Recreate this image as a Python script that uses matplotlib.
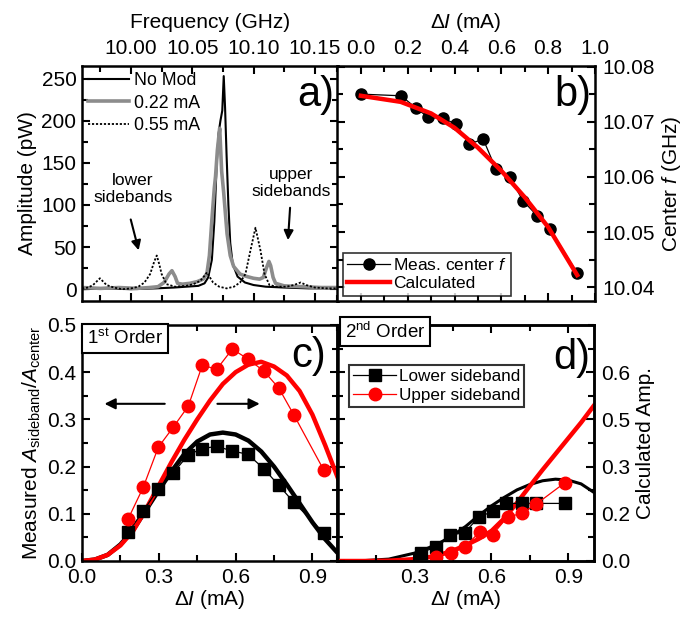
import matplotlib
matplotlib.use('Agg')
import matplotlib.pyplot as plt
from matplotlib.ticker import MultipleLocator

plt.rcParams['font.family'] = ['Liberation Sans', 'DejaVu Sans']
plt.rcParams['font.size'] = 15
plt.rcParams['mathtext.fontset'] = 'custom'
plt.rcParams['mathtext.rm'] = 'Liberation Sans'
plt.rcParams['mathtext.it'] = 'Liberation Sans:italic'
plt.rcParams['axes.linewidth'] = 1.8

# a) spectra (GHz, pW)
freq_nomod = [9.960, 9.980, 10.000, 10.020, 10.035, 10.045, 10.055, 10.060, 10.063, 10.066,
              10.068, 10.070, 10.0715, 10.073, 10.0745, 10.0757, 10.0768, 10.078, 10.0795,
              10.081, 10.083, 10.087, 10.093, 10.100, 10.110, 10.125, 10.145, 10.169]
amp_nomod = [0, 1, 0, 1, 2, 3, 4, 7, 14, 35, 80, 150, 185, 200, 212, 253, 215, 160, 100,
             55, 30, 15, 8, 5, 3, 2, 1, 1]

freq_022 = [9.960, 9.975, 9.990, 10.005, 10.015, 10.022, 10.027, 10.031, 10.0334, 10.036,
            10.038, 10.042, 10.048, 10.054, 10.059, 10.062, 10.064, 10.066, 10.068, 10.069,
            10.0705, 10.0724, 10.074, 10.0757, 10.0784, 10.081, 10.0838, 10.089, 10.0948,
            10.100, 10.105, 10.108, 10.1105, 10.1126, 10.114, 10.116, 10.118, 10.125, 10.140,
            10.155, 10.169]
amp_022 = [2, 1, 2, 1, 2, 3, 8, 18, 22, 15, 7, 6, 7, 9, 12, 19, 40, 82, 120, 134, 165, 191,
           140, 114, 66, 40, 27, 18, 15, 13, 12, 14, 25, 33, 28, 14, 7, 4, 3, 2, 2]

freq_055 = [9.960, 9.965, 9.969, 9.9746, 9.980, 9.986, 9.993, 10.000, 10.006, 10.011,
            10.0156, 10.019, 10.021, 10.023, 10.025, 10.029, 10.036, 10.045, 10.051, 10.0566,
            10.060, 10.062, 10.064, 10.067, 10.072, 10.078, 10.084, 10.089, 10.0934, 10.0975,
            10.1016, 10.1057, 10.109, 10.113, 10.119, 10.127, 10.133, 10.1385, 10.143, 10.150,
            10.160, 10.169]
amp_055 = [1, 2, 5, 13, 5, 2, 0, 1, 3, 8, 18, 33, 40, 30, 18, 6, 3, 4, 6, 10, 16, 20, 15, 8,
           3, 1, 3, 8, 18, 46, 73, 46, 18, 5, 3, 3, 5, 8, 5, 2, 1, 1]

# b) center frequency
di_meas = [0.0, 0.172, 0.235, 0.287, 0.352, 0.405, 0.463, 0.523, 0.577, 0.635, 0.692,
           0.752, 0.809, 0.924]
f_meas = [10.0750, 10.0747, 10.0725, 10.0708, 10.0706, 10.0696, 10.0660, 10.0668, 10.0614,
          10.0600, 10.0557, 10.0530, 10.0505, 10.0426]
di_calc = [0.0, 0.17, 0.3, 0.4, 0.5, 0.6, 0.7, 0.8, 0.924]
f_calc = [10.0747, 10.0736, 10.0715, 10.0689, 10.0653, 10.0611, 10.0563, 10.0509, 10.0422]

# c) 1st order sidebands
di_c = [0.180, 0.239, 0.298, 0.357, 0.415, 0.470, 0.526, 0.587, 0.648, 0.711, 0.769, 0.828, 0.945]
lower_c = [0.061, 0.106, 0.153, 0.187, 0.225, 0.238, 0.243, 0.233, 0.226, 0.195, 0.160, 0.124, 0.059]
upper_c = [0.089, 0.156, 0.241, 0.284, 0.328, 0.415, 0.406, 0.449, 0.428, 0.402, 0.366, 0.309, 0.192]
di_calc_c = [0, 0.05, 0.1, 0.15, 0.2, 0.25, 0.3, 0.35, 0.4, 0.45, 0.5, 0.55, 0.6, 0.65, 0.7,
             0.75, 0.8, 0.85, 0.9, 0.95, 1.0]
calc_lower_c = [0, 0.003, 0.013, 0.035, 0.066, 0.108, 0.150, 0.19, 0.227, 0.253, 0.268, 0.272,
                0.268, 0.255, 0.232, 0.200, 0.162, 0.122, 0.082, 0.046, 0.016]
calc_upper_c = [0, 0.003, 0.013, 0.033, 0.064, 0.11, 0.16, 0.21, 0.257, 0.30, 0.34, 0.375,
                0.40, 0.416, 0.422, 0.412, 0.393, 0.36, 0.31, 0.245, 0.175]

# d) 2nd order sidebands
di_d_low = [0.327, 0.386, 0.440, 0.496, 0.551, 0.605, 0.657, 0.719, 0.774, 0.887]
lower_d = [0.018, 0.030, 0.055, 0.060, 0.093, 0.105, 0.122, 0.122, 0.122, 0.122]
di_d_up = [0.383, 0.444, 0.496, 0.554, 0.605, 0.663, 0.719, 0.776, 0.887]
upper_d = [0.009, 0.016, 0.030, 0.061, 0.056, 0.093, 0.101, 0.121, 0.166]
di_calc_d = [0, 0.1, 0.2, 0.3, 0.35, 0.4, 0.45, 0.5, 0.55, 0.6, 0.65, 0.7, 0.75, 0.8, 0.85,
             0.9, 0.95, 1.0]
calc_lower_d = [0, 0.001, 0.006, 0.025, 0.040, 0.058, 0.082, 0.110, 0.144, 0.175, 0.202, 0.226,
                0.243, 0.255, 0.260, 0.257, 0.245, 0.218]
calc_upper_d = [0, 0, 0.001, 0.006, 0.011, 0.020, 0.033, 0.050, 0.070, 0.095, 0.135, 0.185,
                0.238, 0.290, 0.340, 0.390, 0.440, 0.494]
calc_amp_ticks = [0.0, 0.15, 0.3, 0.45, 0.6]
calc_amp_labels = ['0.0', '0.2', '0.3', '0.5', '0.6']

red = '#ff0000'
fig = plt.figure(figsize=(6.83, 6.19), dpi=100)
ax_a = fig.add_axes([0.1201, 0.5137, 0.3748, 0.3797])
ax_b = fig.add_axes([0.4941, 0.5137, 0.3770, 0.3797])
ax_c = fig.add_axes([0.1201, 0.0937, 0.3748, 0.3813])
ax_d = fig.add_axes([0.4941, 0.0937, 0.3755, 0.3813])


def style(ax):
    ax.tick_params(which='both', direction='in', top=True, bottom=True, left=True, right=True,
                   width=1.5)
    ax.tick_params(which='major', length=6)
    ax.tick_params(which='minor', length=4)


# panel a
ax_a.plot(freq_nomod, amp_nomod, color='k', lw=1.5, label='No Mod')
ax_a.plot(freq_022, amp_022, color='#8c8c8c', lw=2.6, label='0.22 mA')
ax_a.plot(freq_055, amp_055, color='k', lw=1.3, ls=(0, (1.2, 1.0)), label='0.55 mA')
ax_a.set_xlim(9.960, 10.169)
ax_a.set_ylim(-14, 265)
style(ax_a)
ax_a.xaxis.set_major_locator(MultipleLocator(0.05))
ax_a.xaxis.set_minor_locator(MultipleLocator(0.025))
ax_a.yaxis.set_major_locator(MultipleLocator(50))
ax_a.yaxis.set_minor_locator(MultipleLocator(25))
ax_a.xaxis.set_major_formatter(matplotlib.ticker.FormatStrFormatter('%.2f'))
ax_a.tick_params(axis='x', labeltop=True, labelbottom=False, pad=6)
ax_a.tick_params(axis='y', pad=4)
ax_a.xaxis.set_label_position('top')
ax_a.set_xlabel('Frequency (GHz)', labelpad=8)
ax_a.set_ylabel('Amplitude (pW)', labelpad=3)
ax_a.legend(loc='upper left', frameon=False, handlelength=2.3, handletextpad=0.25,
            labelspacing=0.3, borderaxespad=0.15, borderpad=0.2, fontsize=12.8)
ax_a.text(0.985, 0.96, 'a)', transform=ax_a.transAxes, ha='right', va='top', fontsize=30)
ax_a.text(10.0016, 119, 'lower\nsidebands', ha='center', va='center', fontsize=12.5,
          linespacing=1.1)
ax_a.annotate('', xy=(10.0068, 43), xytext=(9.9992, 86),
              arrowprops=dict(arrowstyle='-|>', color='k', lw=1.5, mutation_scale=14))
ax_a.text(10.131, 126, 'upper\nsidebands', ha='center', va='center', fontsize=12.5,
          linespacing=1.1)
ax_a.annotate('', xy=(10.128, 55), xytext=(10.130, 100),
              arrowprops=dict(arrowstyle='-|>', color='k', lw=1.5, mutation_scale=14))

# panel b
ax_b.plot(di_meas, f_meas, color='k', lw=0.9, marker='o', ms=8, label='Meas. center $f$')
ax_b.plot(di_calc, f_calc, color=red, lw=3.2, label='Calculated')
ax_b.set_xlim(-0.1, 1.0)
ax_b.set_ylim(10.0375, 10.0801)
style(ax_b)
ax_b.xaxis.set_major_locator(MultipleLocator(0.2))
ax_b.xaxis.set_minor_locator(MultipleLocator(0.1))
ax_b.yaxis.set_major_locator(MultipleLocator(0.01))
ax_b.yaxis.set_minor_locator(MultipleLocator(0.005))
ax_b.xaxis.set_major_formatter(matplotlib.ticker.FormatStrFormatter('%.1f'))
ax_b.yaxis.set_major_formatter(matplotlib.ticker.FormatStrFormatter('%.2f'))
ax_b.set_xticks([0.0, 0.2, 0.4, 0.6, 0.8, 1.0])
ax_b.tick_params(axis='x', labeltop=True, labelbottom=False, pad=6)
ax_b.tick_params(axis='y', labelleft=False, labelright=True, pad=5)
ax_b.xaxis.set_label_position('top')
ax_b.yaxis.set_label_position('right')
ax_b.set_xlabel('Δ$I$ (mA)', labelpad=8)
ax_b.set_ylabel('Center $f$ (GHz)', labelpad=4)
leg = ax_b.legend(loc='lower left', fancybox=False, edgecolor='k', handlelength=2.5,
                  handletextpad=0.15, labelspacing=0.2, borderpad=0.25, borderaxespad=0.3,
                  fontsize=12.5)
leg.get_frame().set_linewidth(1.2)
ax_b.text(0.985, 0.96, 'b)', transform=ax_b.transAxes, ha='right', va='top', fontsize=30)

# panel c
ax_c.plot(di_calc_c, calc_lower_c, color='k', lw=3.2)
ax_c.plot(di_calc_c, calc_upper_c, color=red, lw=3.2)
ax_c.plot(di_c, lower_c, color='k', lw=0.9, marker='s', ms=8)
ax_c.plot(di_c, upper_c, color=red, lw=0.9, marker='o', ms=9)
ax_c.set_xlim(0, 1.0)
ax_c.set_ylim(0, 0.5)
style(ax_c)
ax_c.xaxis.set_major_locator(MultipleLocator(0.3))
ax_c.xaxis.set_minor_locator(MultipleLocator(0.15))
ax_c.yaxis.set_major_locator(MultipleLocator(0.1))
ax_c.yaxis.set_minor_locator(MultipleLocator(0.05))
ax_c.xaxis.set_major_formatter(matplotlib.ticker.FormatStrFormatter('%.1f'))
ax_c.yaxis.set_major_formatter(matplotlib.ticker.FormatStrFormatter('%.1f'))
ax_c.tick_params(axis='x', pad=5)
ax_c.tick_params(axis='y', pad=4)
ax_c.set_xlabel('Δ$I$ (mA)', labelpad=1)
ax_c.set_ylabel('Measured $A_{\\rm sideband}/A_{\\rm center}$', labelpad=3)
ax_c.text(0.02, 0.985, '1$^{\\rm st}$ Order', transform=ax_c.transAxes, ha='left', va='top',
          fontsize=13.5, bbox=dict(boxstyle='square,pad=0.25', fc='white', ec='k', lw=1.5))
ax_c.text(0.955, 0.955, 'c)', transform=ax_c.transAxes, ha='right', va='top', fontsize=30)
ax_c.annotate('', xy=(0.077, 0.333), xytext=(0.334, 0.333),
              arrowprops=dict(arrowstyle='-|>', color='k', lw=1.5, mutation_scale=16))
ax_c.annotate('', xy=(0.705, 0.333), xytext=(0.518, 0.333),
              arrowprops=dict(arrowstyle='-|>', color='k', lw=1.5, mutation_scale=16))

# panel d
ax_d2 = ax_d.twinx()
ax_d2.plot(di_calc_d, calc_lower_d, color='k', lw=2.2)
ax_d2.plot(di_calc_d, calc_upper_d, color=red, lw=3.2)
ax_d.plot(di_d_low, lower_d, color='k', lw=0.9, marker='s', ms=8, label='Lower sideband')
ax_d.plot(di_d_up, upper_d, color=red, lw=0.9, marker='o', ms=9, label='Upper sideband')
ax_d.set_zorder(ax_d2.get_zorder() + 1)
ax_d.patch.set_visible(False)
ax_d.set_xlim(0, 1.0)
ax_d.set_ylim(0, 0.5)
ax_d2.set_ylim(0, 0.75)
style(ax_d)
ax_d.tick_params(right=False, labelleft=False)
ax_d.tick_params(which='minor', right=False)
ax_d2.tick_params(which='both', direction='in', left=False, right=True, width=1.5)
ax_d2.tick_params(which='major', length=6, pad=5)
ax_d2.tick_params(which='minor', length=4)
ax_d.xaxis.set_major_locator(MultipleLocator(0.3))
ax_d.xaxis.set_minor_locator(MultipleLocator(0.15))
ax_d.yaxis.set_major_locator(MultipleLocator(0.1))
ax_d.yaxis.set_minor_locator(MultipleLocator(0.05))
ax_d.set_xticks([0.3, 0.6, 0.9])
ax_d.xaxis.set_major_formatter(matplotlib.ticker.FormatStrFormatter('%.1f'))
ax_d.tick_params(axis='x', pad=5)
ax_d2.set_yticks(calc_amp_ticks)
ax_d2.set_yticklabels(calc_amp_labels)
ax_d2.yaxis.set_minor_locator(MultipleLocator(0.075))
ax_d.set_xlabel('Δ$I$ (mA)', labelpad=1)
ax_d2.set_ylabel('Calculated Amp.', labelpad=4)
leg = ax_d.legend(loc='upper left', bbox_to_anchor=(0.045, 0.83), fancybox=False,
                  edgecolor='k', handlelength=2.5, handletextpad=0.15, labelspacing=0.2,
                  borderpad=0.25, borderaxespad=0.0, fontsize=12.3)
leg.get_frame().set_linewidth(1.5)
ax_d.text(0.03, 1.015, '2$^{\\rm nd}$ Order', transform=ax_d.transAxes, ha='left', va='top',
          fontsize=13.5, bbox=dict(boxstyle='square,pad=0.25', fc='white', ec='k', lw=1.5),
          zorder=5)
ax_d.text(0.985, 0.945, 'd)', transform=ax_d.transAxes, ha='right', va='top', fontsize=30)

fig.savefig('out.png', dpi=100)
